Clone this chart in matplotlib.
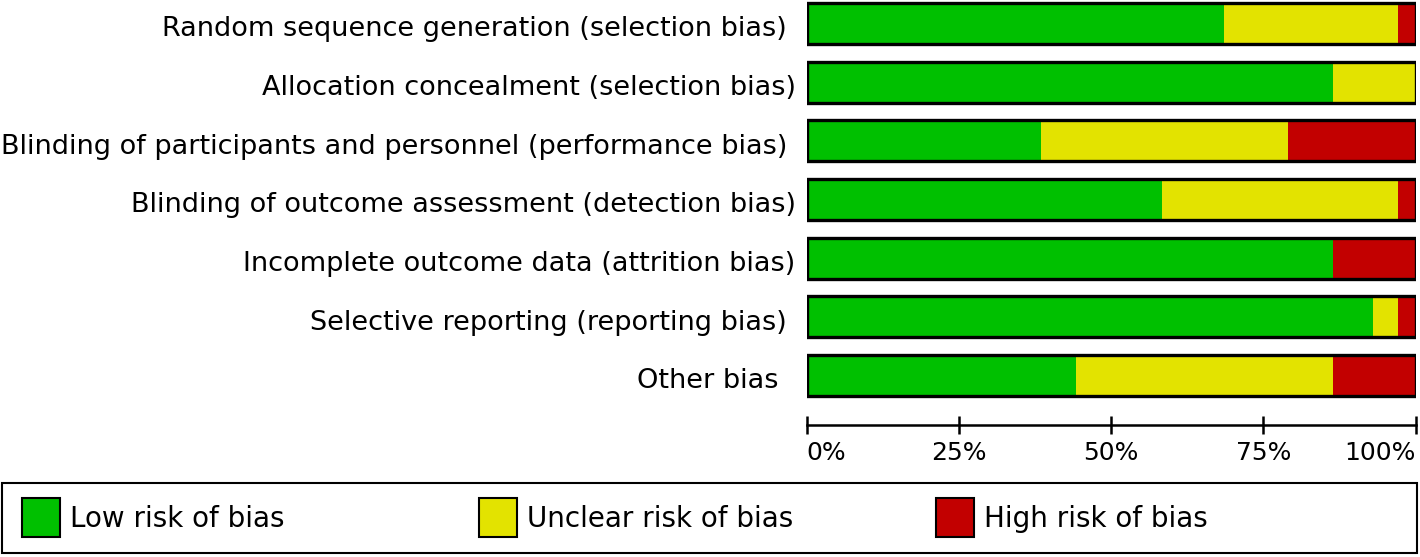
import matplotlib.pyplot as plt
from matplotlib.patches import Rectangle

# risk of bias summary, percent of studies per domain
domains = ['Random sequence generation (selection bias) ',
           'Allocation concealment (selection bias)',
           'Blinding of participants and personnel (performance bias) ',
           'Blinding of outcome assessment (detection bias)',
           'Incomplete outcome data (attrition bias)',
           'Selective reporting (reporting bias) ',
           'Other bias  ']
low = [68.6, 86.5, 38.5, 58.3, 86.5, 93.0, 44.3]
unclear = [28.6, 13.5, 40.6, 38.9, 0.0, 4.2, 42.2]
high = [2.8, 0.0, 20.9, 2.8, 13.5, 2.8, 13.5]
legend_labels = ['Low risk of bias', 'Unclear risk of bias', 'High risk of bias']
tick_vals = [0, 25, 50, 75, 100]
tick_labels = ['0%', '25%', '50%', '75%', '100%']

green = '#00c000'
yellow = '#e3e300'
red = '#c20000'

W, H = 1420, 557
fig = plt.figure(figsize=(W / 100, H / 100), dpi=100)

# axes in pixel coords: left 806.5, right 1415.5, top 0, bottom 425
ax = fig.add_axes([806.5 / W, 1 - 425 / H, 609 / W, 425 / H])
row_px = 58.67
ax.set_xlim(0, 100)
ax.set_ylim((425 - 23.5) / row_px, -23.5 / row_px)

ys = list(range(len(domains)))
bar_h = 0.70
left2 = [a + b for a, b in zip(low, unclear)]
ax.barh(ys, low, height=bar_h, color=green, linewidth=0)
ax.barh(ys, unclear, left=low, height=bar_h, color=yellow, linewidth=0)
ax.barh(ys, high, left=left2, height=bar_h, color=red, linewidth=0)
ax.barh(ys, [100] * len(ys), height=bar_h, fill=False, edgecolor='black', linewidth=2.4)

ax.set_yticks([])
for y, name in zip(ys, domains):
    ax.text(-1.8, y + 0.1, name, ha='right', va='center', fontsize=19.5)

for s in ['top', 'right', 'left']:
    ax.spines[s].set_visible(False)
ax.spines['bottom'].set_linewidth(1.8)
ax.set_xticks(tick_vals)
ax.set_xticklabels(tick_labels, fontsize=18)
ax.tick_params(axis='x', direction='inout', length=13, width=1.8, pad=5)
labs = ax.get_xticklabels()
labs[0].set_ha('left')
labs[-1].set_ha('right')

# legend box
fig.patches.append(Rectangle((2 / W, 1 - 553 / H), 1415 / W, 70 / H,
                             transform=fig.transFigure, fill=False,
                             edgecolor='black', linewidth=1.5))
for x0, col, lab in zip([22, 479, 936], [green, yellow, red], legend_labels):
    fig.patches.append(Rectangle((x0 / W, 1 - 537 / H), 38 / W, 39 / H,
                                 transform=fig.transFigure, facecolor=col,
                                 edgecolor='black', linewidth=1.5))
    fig.text((x0 + 48) / W, 1 - 519 / H, lab, ha='left', va='center', fontsize=20)

plt.savefig('out.png', dpi=100)
